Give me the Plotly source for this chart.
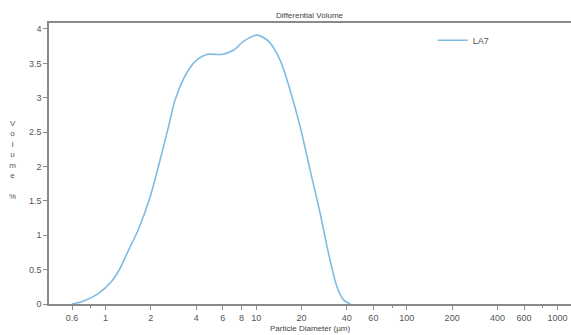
import plotly.graph_objects as go

diameter_um = [0.6, 0.712, 0.895, 1.10, 1.25, 1.42, 1.65, 1.98, 2.30, 2.62, 2.90, 3.46, 4.04, 4.70,
               5.92, 7.07, 8.23, 10.1, 12.1, 14.4, 16.8, 19.6, 22.8, 26.6, 30.2, 34.4, 38.0, 42.2]
volume_pct = [0.0, 0.04, 0.15, 0.33, 0.52, 0.78, 1.08, 1.56, 2.09, 2.58, 2.97, 3.36, 3.55, 3.63,
              3.63, 3.69, 3.82, 3.91, 3.82, 3.55, 3.11, 2.58, 1.95, 1.32, 0.74, 0.25, 0.06, 0.0]

x_tickvals = [0.6, 1, 2, 4, 6, 8, 10, 20, 40, 60, 100, 200, 400, 600, 1000]
x_ticktext = ["0.6", "1", "2", "4", "6", "8", "10", "20", "40", "60", "100", "200", "400", "600", "1000"]
x_minor = [0.8, 80, 800]
y_tickvals = [0, 0.5, 1, 1.5, 2, 2.5, 3, 3.5, 4]
y_ticktext = ["0", "0.5", "1", "1.5", "2", "2.5", "3", "3.5", "4"]

axis_col = "#8a8a8a"
text_col = "#555555"
font_fam = "Liberation Sans, Arial, sans-serif"

fig = go.Figure()
fig.add_trace(go.Scatter(x=diameter_um, y=volume_pct, mode="lines", name="LA7",
                         line=dict(color="#7fbbe3", width=1.6, shape="spline", smoothing=0.8)))

fig.update_layout(
    width=571, height=335,
    margin=dict(l=49, r=0, t=23, b=31),
    paper_bgcolor="white", plot_bgcolor="white",
    font=dict(family=font_fam, size=9, color=text_col),
    showlegend=True,
    legend=dict(x=0.735, y=0.99, xanchor="left", yanchor="top", bgcolor="rgba(0,0,0,0)",
                font=dict(size=9, color=text_col), itemwidth=30),
    xaxis=dict(type="log", range=[-0.375, 3.09], showgrid=False, zeroline=False,
               showline=True, linecolor=axis_col, linewidth=1.5, mirror=True,
               ticks="outside", ticklen=4, tickcolor=axis_col, tickwidth=1,
               tickmode="array", tickvals=x_tickvals, ticktext=x_ticktext,
               tickfont=dict(size=9, color=text_col),
               minor=dict(tickvals=x_minor, ticks="outside", ticklen=2, tickcolor=axis_col)),
    yaxis=dict(range=[0, 4.087], showgrid=False, zeroline=False,
               showline=True, linecolor=axis_col, linewidth=1.5,
               ticks="outside", ticklen=4, tickcolor=axis_col, tickwidth=1,
               tickmode="array", tickvals=y_tickvals, ticktext=y_ticktext,
               tickfont=dict(size=9, color=text_col)),
    annotations=[
        dict(text="Differential Volume", x=0.5, y=1.0, xref="paper", yref="paper",
             xanchor="center", yanchor="bottom", yshift=1, showarrow=False,
             font=dict(size=8, color="#444444")),
        dict(text="Particle Diameter (µm)", x=0.5, y=0, xref="paper", yref="paper",
             xanchor="center", yanchor="top", yshift=-18, showarrow=False,
             font=dict(size=8, color="#444444")),
        dict(text="V<br>o<br>l<br>u<br>m<br>e<br><br>%", xref="paper", yref="paper",
             x=(12 - 49) / 522, y=(304 - 160) / 281, xanchor="center", yanchor="middle",
             showarrow=False, font=dict(size=8, color=text_col)),
    ],
)
fig.write_html("out.html", config={"displayModeBar": False},
               post_script="document.body.style.margin='0px';document.body.style.overflow='hidden';")
